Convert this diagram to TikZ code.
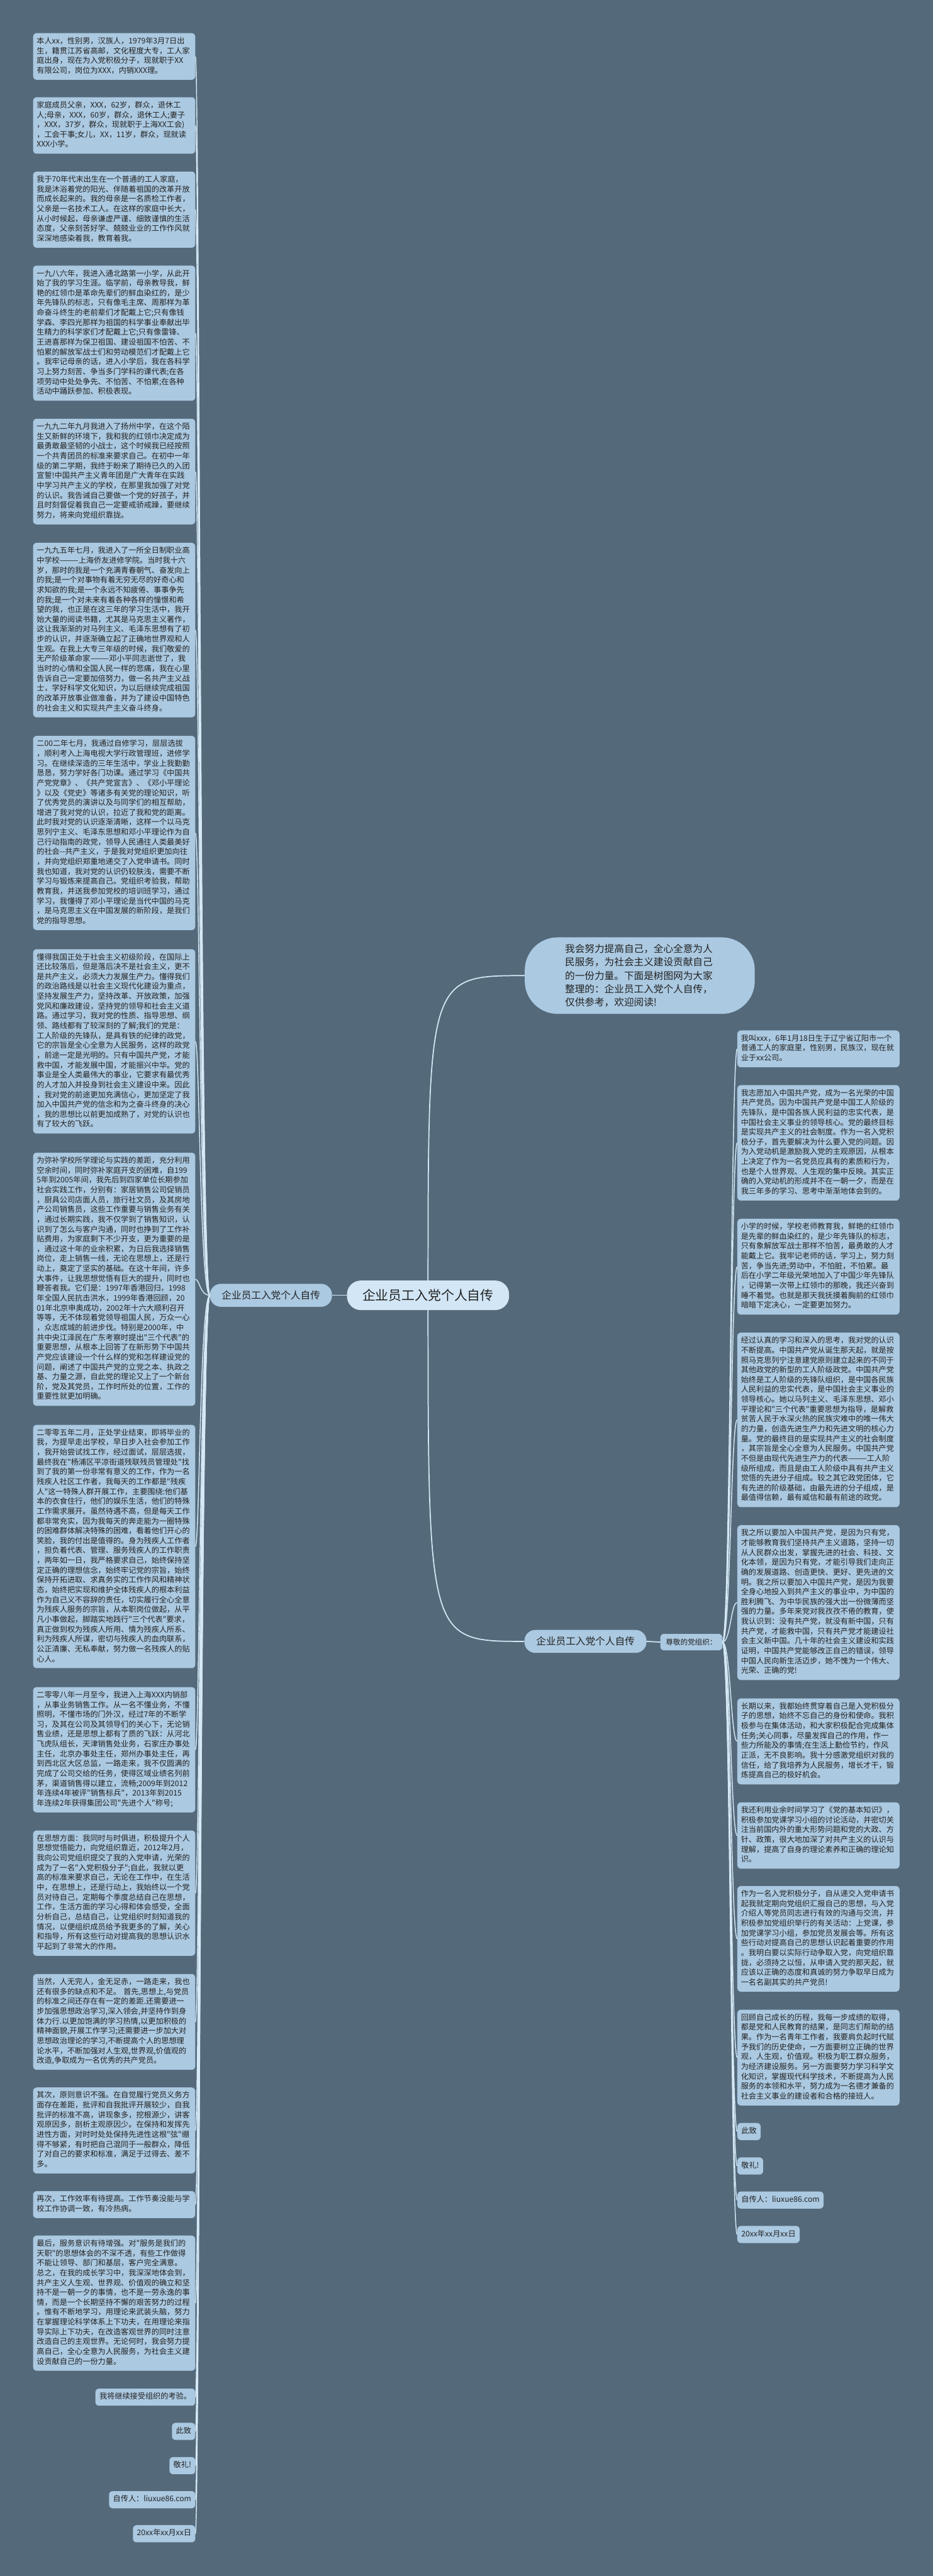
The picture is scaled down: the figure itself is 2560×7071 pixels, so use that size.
\documentclass[tikz,border=0pt]{standalone}
\usepackage{fontspec}
\newfontfamily\cjk{Noto Sans CJK SC}
\usetikzlibrary{calc}
\pgfdeclarelayer{bgfill}
\pgfdeclarelayer{edges}
\pgfsetlayers{bgfill,edges,main}
\definecolor{bgc}{HTML}{546A7B}
\definecolor{boxc}{HTML}{ABC9E1}
\definecolor{hubc}{HTML}{D2E6F5}
\definecolor{linec}{HTML}{D4E8F5}
\definecolor{txtc}{HTML}{222222}
\begin{document}
\begin{tikzpicture}[x=1pt,y=1pt,
  txtbox/.style={fill=boxc,text=txtc,rounded corners=10pt,font=\cjk\fontsize{21}{27}\selectfont,
    inner xsep=10pt,inner ysep=10pt,align=left,text width=425pt,
    execute at begin node=\strut,execute at end node=\strut},
  tagbox/.style={fill=boxc,text=txtc,rounded corners=10pt,font=\cjk\fontsize{21}{27}\selectfont,
    inner xsep=11pt,inner ysep=10pt,execute at begin node=\strut},
  intronode/.style={fill=boxc,text=txtc,rounded corners=90pt,minimum width=631pt,minimum height=210pt,
    text width=410pt,align=left,inner sep=0pt,font=\cjk\fontsize{27}{36.6}\selectfont},
  hubnode/.style={fill=hubc,text=txtc,rounded corners=38pt,minimum width=445pt,minimum height=81pt,
    inner sep=0pt,font=\cjk\fontsize{36}{40}\selectfont},
  branchnode/.style={fill=boxc,text=txtc,rounded corners=30pt,minimum width=335pt,minimum height=63pt,
    inner sep=0pt,font=\cjk\fontsize{27}{30}\selectfont},
  subnode/.style={fill=boxc,text=txtc,rounded corners=10pt,minimum width=170pt,minimum height=45pt,
    inner sep=0pt,font=\cjk\fontsize{20}{24}\selectfont},
  conn/.style={draw=linec,line width=2.5pt},
  mainconn/.style={draw=linec,line width=3pt}
]
\useasboundingbox (0,0) rectangle (2560,-7071);
\begin{pgfonlayer}{bgfill}
\fill[bgc] (0,0) rectangle (2560,-7071);
\end{pgfonlayer}

% ---------- central structure ----------
\node[hubnode] (hub) at (1174.5,-3555.5) {企业员工入党个人自传};
\node[branchnode] (lhub) at (743.5,-3555.5) {企业员工入党个人自传};
\node[branchnode] (bnode) at (1606.5,-4505.5) {企业员工入党个人自传};
\node[subnode] (sub) at (1897,-4507.5) {尊敬的党组织：};
\node[intronode] (intro) at (1755.5,-2678) {我会努力提高自己，全心全意为人\\民服务，为社会主义建设贡献自己\\的一份力量。下面是树图网为大家\\整理的：企业员工入党个人自传，\\仅供参考，欢迎阅读!};

\coordinate (ltrunk) at (548,-3555.5);
\coordinate (rtrunk) at (2005,-4507.5);

% ---------- left column ----------
\node[txtbox,anchor=east] (L1) at (536,-155) {本人xx，性别男，汉族人，1979年3月7日出\\生，籍贯江苏省高邮，文化程度大专，工人家\\庭出身，现在为入党积极分子，现就职于XX\\有限公司，岗位为XXX，内销XXX理。};
\node[txtbox,anchor=east] (L2) at (536,-344.5) {家庭成员父亲，XXX，62岁，群众，退休工\\人;母亲，XXX，60岁，群众，退休工人;妻子\\，XXX，37岁，群众，现就职于上海XX工会)\\，工会干事;女儿，XX，11岁，群众，现就读\\XXX小学。};
\node[txtbox,anchor=east] (L3) at (536,-575.5) {我于70年代末出生在一个普通的工人家庭，\\我是沐浴着党的阳光、伴随着祖国的改革开放\\而成长起来的。我的母亲是一名质检工作者，\\父亲是一名技术工人。在这样的家庭中长大，\\从小时候起，母亲谦虚严谨、细致谨慎的生活\\态度，父亲刻苦好学、兢兢业业的工作作风就\\深深地感染着我，教育着我。};
\node[txtbox,anchor=east] (L4) at (536,-914.5) {一九八六年，我进入通北路第一小学，从此开\\始了我的学习生涯。临学前，母亲教导我，鲜\\艳的红领巾是革命先辈们的鲜血染红的，是少\\年先锋队的标志，只有像毛主席、周那样为革\\命奋斗终生的老前辈们才配戴上它;只有像钱\\学森、李四光那样为祖国的科学事业奉献出毕\\生精力的科学家们才配戴上它;只有像雷锋、\\王进喜那样为保卫祖国、建设祖国不怕苦、不\\怕累的解放军战士们和劳动模范们才配戴上它\\。我牢记母亲的话，进入小学后，我在各科学\\习上努力刻苦、争当多门学科的课代表;在各\\项劳动中处处争先、不怕苦、不怕累;在各种\\活动中踊跃参加、积极表现。};
\node[txtbox,anchor=east] (L5) at (536,-1294.5) {一九九二年九月我进入了扬州中学，在这个陌\\生又新鲜的环境下，我和我的红领巾决定成为\\最勇敢最坚韧的小战士，这个时候我已经按照\\一个共青团员的标准来要求自己。在初中一年\\级的第二学期，我终于盼来了期待已久的入团\\宣誓!中国共产主义青年团是广大青年在实践\\中学习共产主义的学校，在那里我加强了对党\\的认识。我告诫自己要做一个党的好孩子，并\\且时刻督促着我自己一定要戒骄戒躁，要继续\\努力，将来向党组织靠拢。};
\node[txtbox,anchor=east] (L6) at (536,-1729.5) {一九九五年七月，我进入了一所全日制职业高\\中学校———上海侨友进修学院。当时我十六\\岁，那时的我是一个充满青春朝气、奋发向上\\的我;是一个对事物有着无穷无尽的好奇心和\\求知欲的我;是一个永远不知疲倦、事事争先\\的我;是一个对未来有着各种各样的憧憬和希\\望的我，也正是在这三年的学习生活中，我开\\始大量的阅读书籍，尤其是马克思主义著作，\\这让我渐渐的对马列主义、毛泽东思想有了初\\步的认识，并逐渐确立起了正确地世界观和人\\生观。在我上大专三年级的时候，我们敬爱的\\无产阶级革命家———邓小平同志逝世了，我\\当时的心情和全国人民一样的悲痛，我在心里\\告诉自己一定要加倍努力，做一名共产主义战\\士，学好科学文化知识，为以后继续完成祖国\\的改革开放事业做准备，并为了建设中国特色\\的社会主义和实现共产主义奋斗终身。};
\node[txtbox,anchor=east] (L7) at (536,-2286.5) {二00二年七月，我通过自修学习，层层选拔\\，顺利考入上海电视大学行政管理班，进修学\\习。在继续深造的三年生活中，学业上我勤勤\\恳恳，努力学好各门功课。通过学习《中国共\\产党党章》、《共产党宣言》、《邓小平理论\\》以及《党史》等诸多有关党的理论知识，听\\了优秀党员的演讲以及与同学们的相互帮助，\\增进了我对党的认识，拉近了我和党的距离。\\此时我对党的认识逐渐清晰，这样一个以马克\\思列宁主义、毛泽东思想和邓小平理论作为自\\己行动指南的政党，领导人民通往人类最美好\\的社会-{}-共产主义，于是我对党组织更加向往\\，并向党组织郑重地递交了入党申请书。同时\\我也知道，我对党的认识仍较肤浅，需要不断\\学习与锻炼来提高自己。党组织考验我，帮助\\教育我，并送我参加党校的培训班学习，通过\\学习，我懂得了邓小平理论是当代中国的马克\\，是马克思主义在中国发展的新阶段，是我们\\党的指导思想。};
\node[txtbox,anchor=east] (L8) at (536,-2858.5) {懂得我国正处于社会主义初级阶段，在国际上\\还比较落后，但是落后决不是社会主义，更不\\是共产主义，必须大力发展生产力。懂得我们\\的政治路线是以社会主义现代化建设为重点，\\坚持发展生产力，坚持改革、开放政策，加强\\党风和廉政建设，坚持党的领导和社会主义道\\路。通过学习，我对党的性质、指导思想、纲\\领、路线都有了较深刻的了解;我们的党是：\\工人阶级的先锋队，是具有铁的纪律的政党，\\它的宗旨是全心全意为人民服务，这样的政党\\，前途一定是光明的。只有中国共产党，才能\\救中国，才能发展中国，才能振兴中华。党的\\事业是全人类最伟大的事业，它要求有最优秀\\的人才加入并投身到社会主义建设中来。因此\\，我对党的前途更加充满信心，更加坚定了我\\加入中国共产党的信念和为之奋斗终身的决心\\，我的思想比以前更加成熟了，对党的认识也\\有了较大的飞跃。};
\node[txtbox,anchor=east] (L9) at (536,-3511.5) {为弥补学校所学理论与实践的差距，充分利用\\空余时间，同时弥补家庭开支的困难，自199\\5年到2005年间，我先后到四家单位长期参加\\社会实践工作，分别有：家居销售公司促销员\\，厨具公司店面人员，旅行社文员，及其房地\\产公司销售员，这些工作重要与销售业务有关\\，通过长期实践，我不仅学到了销售知识，认\\识到了怎么与客户沟通，同时也挣到了工作补\\贴费用，为家庭剩下不少开支，更为重要的是\\，通过这十年的业余积累，为日后我选择销售\\岗位，走上销售一线，无论在思想上，还是行\\动上，奠定了坚实的基础。在这十年间，许多\\大事件，让我思想觉悟有巨大的提升，同时也\\鞭答者我。它们是：1997年香港回归，1998\\年全国人民抗击洪水，1999年香港回顾，20\\01年北京申奥成功，2002年十六大顺利召开\\等等，无不体现着党领导祖国人民，万众一心\\，众志成城的前进步伐。特别是2000年，中\\共中央江泽民在广东考察时提出"三个代表"的\\重要思想，从根本上回答了在新形势下中国共\\产党应该建设一个什么样的党和怎样建设党的\\问题，阐述了中国共产党的立党之本、执政之\\基、力量之源，自此党的理论又上了一个新台\\阶，党及其党员，工作时所处的位置，工作的\\重要性就更加明确。};
\node[txtbox,anchor=east] (L10) at (536,-4245) {二零零五年二月，正处学业结束，即将毕业的\\我，为提早走出学校，早日步入社会参加工作\\，我开始尝试找工作，经过面试，层层选拔，\\最终我在"杨浦区平凉街道残联残员管理处"找\\到了我的第一份非常有意义的工作，作为一名\\残疾人社区工作者，我每天的工作都是"残疾\\人"这一特殊人群开展工作，主要围绕:他们基\\本的衣食住行，他们的娱乐生活，他们的特殊\\工作需求展开。虽然待遇不高，但是每天工作\\都非常充实，因为我每天的奔走能为一圈特殊\\的困难群体解决特殊的困难，看着他们开心的\\笑脸，我的付出是值得的。身为残疾人工作者\\，担负着代表、管理、服务残疾人的工作职责\\，两年如一日，我严格要求自己，始终保持坚\\定正确的理想信念，始终牢记党的宗旨，始终\\保持开拓进取、求真务实的工作作风和精神状\\态，始终把实现和维护全体残疾人的根本利益\\作为自己义不容辞的责任，切实履行全心全意\\为残疾人服务的宗旨，从本职岗位做起，从平\\凡小事做起，脚踏实地践行"三个代表"要求，\\真正做到权为残疾人所用、情为残疾人所系、\\利为残疾人所谋，密切与残疾人的血肉联系，\\公正清廉、无私奉献，努力做一名残疾人的贴\\心人。};
\node[txtbox,anchor=east] (L11) at (536,-4803) {二零零八年一月至今，我进入上海XXX内销部\\，从事业务销售工作。从一名不懂业务，不懂\\照明，不懂市场的门外汉，经过7年的不断学\\习，及其在公司及其领导们的关心下，无论销\\售业绩，还是思想上都有了质的飞跃：从河北\\飞虎队组长，天津销售处业务，石家庄办事处\\主任，北京办事处主任，郑州办事处主任，再\\到西北区大区总监，一路走来，我不仅圆满的\\完成了公司交给的任务，使得区域业绩名列前\\茅，渠道销售得以建立，流畅;2009年到2012\\年连续4年被评"销售标兵"，2013年到2015\\年连续2年获得集团公司"先进个人"称号;};
\node[txtbox,anchor=east] (L12) at (536,-5196.5) {在思想方面：我同时与时俱进，积极提升个人\\思想觉悟能力，向党组织靠近，2012年2月，\\我向公司党组织提交了我的入党申请，光荣的\\成为了一名"入党积极分子";自此，我就以更\\高的标准来要求自己，无论在工作中，在生活\\中，在思想上，还是行动上，我始终以一个党\\员对待自己，定期每个季度总结自己在思想，\\工作，生活方面的学习心得和体会感受，全面\\分析自己，总结自己，让党组织时刻知道我的\\情况，以便组织成员给予我更多的了解，关心\\和指导，所有这些行动对提高我的思想认识水\\平起到了非常大的作用。};
\node[txtbox,anchor=east] (L13) at (536,-5550) {当然，人无完人，金无足赤，一路走来，我也\\还有很多的缺点和不足。\ 首先,思想上,与党员\\的标准之间还存在有一定的差距.还需要进一\\步加强思想政治学习,深入领会,并坚持作到身\\体力行.以更加饱满的学习热情,以更加积极的\\精神面貌,开展工作学习;还需要进一步加大对\\思想政治理论的学习,不断提高个人的思想理\\论水平，不断加强对人生观,世界观,价值观的\\改造,争取成为一名优秀的共产党员。};
\node[txtbox,anchor=east] (L14) at (536,-5848) {其次，原则意识不强。在自觉履行党员义务方\\面存在差距，批评和自我批评开展较少，自我\\批评的标准不高，讲现象多，挖根源少，讲客\\观原因多，剖析主观原因少。在保持和发挥先\\进性方面，对时时处处保持先进性这根"弦"绷\\得不够紧，有时把自己混同于一般群众，降低\\了对自己的要求和标准，满足于过得去、差不\\多。};
\node[txtbox,anchor=east] (L15) at (536,-6051.5) {再次，工作效率有待提高。工作节奏没能与学\\校工作协调一致，有冷热病。};
\node[txtbox,anchor=east] (L16) at (536,-6322) {最后，服务意识有待增强。对"服务是我们的\\天职"的思想体会的不深不透，有些工作做得\\不能让领导、部门和基层，客户完全满意。\\总之，在我的成长学习中，我深深地体会到，\\共产主义人生观、世界观、价值观的确立和坚\\持不是一朝一夕的事情，也不是一劳永逸的事\\情，而是一个长期坚持不懈的艰苦努力的过程\\。惟有不断地学习，用理论来武装头脑，努力\\在掌握理论科学体系上下功夫，在用理论来指\\导实际上下功夫，在改造客观世界的同时注意\\改造自己的主观世界。无论何时，我会努力提\\高自己，全心全意为人民服务，为社会主义建\\设贡献自己的一份力量。};
\node[tagbox,anchor=east] (L17) at (536,-6580) {我将继续接受组织的考验。};
\node[tagbox,anchor=east] (L18) at (536,-6674) {此致};
\node[tagbox,anchor=east] (L19) at (536,-6768) {敬礼!};
\node[tagbox,anchor=east] (L20) at (536,-6861.5) {自传人：liuxue86.com};
\node[tagbox,anchor=east] (L21) at (536,-6955) {20xx年xx月xx日};

% ---------- right column ----------
\node[txtbox,anchor=west] (R1) at (2023,-2879) {我叫xxx，6年1月18日生于辽宁省辽阳市一个\\普通工人的家庭里，性别男，民族汉，现在就\\业于xx公司。};
\node[txtbox,anchor=west] (R2) at (2023,-3137) {我志愿加入中国共产党，成为一名光荣的中国\\共产党员。因为中国共产党是中国工人阶级的\\先锋队，是中国各族人民利益的忠实代表，是\\中国社会主义事业的领导核心。党的最终目标\\是实现共产主义的社会制度。作为一名入党积\\极分子，首先要解决为什么要入党的问题。因\\为入党动机是激励我入党的主观原因，从根本\\上决定了作为一名党员应具有的素质和行为，\\也是个人世界观、人生观的集中反映。其实正\\确的入党动机的形成并不在一朝一夕，而是在\\我三年多的学习、思考中渐渐地体会到的。};
\node[txtbox,anchor=west] (R3) at (2023,-3477) {小学的时候，学校老师教育我，鲜艳的红领巾\\是先辈的鲜血染红的，是少年先锋队的标志，\\只有象解放军战士那样不怕苦，最勇敢的人才\\能戴上它。我牢记老师的话，学习上，努力刻\\苦，争当先进;劳动中，不怕脏，不怕累。最\\后在小学二年级光荣地加入了中国少年先锋队\\，记得第一次带上红领巾的那晚，我还兴奋到\\睡不着觉。也就是那天我抚摸着胸前的红领巾\\暗暗下定决心，一定要更加努力。};
\node[txtbox,anchor=west] (R4) at (2023,-3897.5) {经过认真的学习和深入的思考，我对党的认识\\不断提高。中国共产党从诞生那天起，就是按\\照马克思列宁注意建党原则建立起来的不同于\\其他政党的新型的工人阶级政党。中国共产党\\始终是工人阶级的先锋队组织，是中国各民族\\人民利益的忠实代表，是中国社会主义事业的\\领导核心。她以马列主义、毛泽东思想、邓小\\平理论和"三个代表"重要思想为指导，是解救\\贫苦人民于水深火热的民族灾难中的唯一伟大\\的力量，创造先进生产力和先进文明的核心力\\量。党的最终目的是实现共产主义的社会制度\\，其宗旨是全心全意为人民服务。中国共产党\\不但是由现代先进生产力的代表———工人阶\\级所组成，而且是由工人阶级中具有共产主义\\觉悟的先进分子组成。较之其它政党团体，它\\有先进的阶级基础，由最先进的分子组成，是\\最值得信赖，最有威信和最有前途的政党。};
\node[txtbox,anchor=west] (R5) at (2023,-4399) {我之所以要加入中国共产党，是因为只有党，\\才能够教育我们坚持共产主义道路，坚持一切\\从人民群众出发，掌握先进的社会、科技、文\\化本领，是因为只有党，才能引导我们走向正\\确的发展道路、创造更快、更好、更先进的文\\明。我之所以要加入中国共产党，是因为我要\\全身心地投入到共产主义的事业中，为中国的\\胜利腾飞、为中华民族的强大出一份微薄而坚\\强的力量。多年来党对我孜孜不倦的教育，使\\我认识到：没有共产党，就没有新中国，只有\\共产党，才能救中国，只有共产党才能建设社\\会主义新中国。几十年的社会主义建设和实践\\证明，中国共产党能够改正自己的错误，领导\\中国人民向新生活迈步，她不愧为一个伟大、\\光荣、正确的党!};
\node[txtbox,anchor=west] (R6) at (2023,-4780) {长期以来，我都始终贯穿着自己是入党积极分\\子的思想，始终不忘自己的身份和使命。我积\\极参与在集体活动，和大家积极配合完成集体\\任务;关心同事，尽量发挥自己的作用，作一\\些力所能及的事情;在生活上勤俭节约，作风\\正派，无不良影响。我十分感激党组织对我的\\信任，给了我培养为人民服务，增长才干，锻\\炼提高自己的极好机会。};
\node[txtbox,anchor=west] (R7) at (2023,-5038.5) {我还利用业余时间学习了《党的基本知识》，\\积极参加党课学习小组的讨论活动，并密切关\\注当前国内外的重大形势问题和党的大政、方\\针、政策，很大地加深了对共产主义的认识与\\理解，提高了自身的理论素养和正确的理论知\\识。};
\node[txtbox,anchor=west] (R8) at (2023,-5322) {作为一名入党积极分子，自从递交入党申请书\\起我就定期向党组织汇报自己的思想，与入党\\介绍人等党员同志进行有效的沟通与交流，并\\积极参加党组织举行的有关活动：上党课，参\\加党课学习小组，参加党员发展会等。所有这\\些行动对提高自己的思想认识起着重要的作用\\。我明白要以实际行动争取入党，向党组织靠\\拢，必须持之以恒，从申请入党的那天起，就\\应该以正确的态度和真诚的努力争取早日成为\\一名名副其实的共产党员!};
\node[txtbox,anchor=west] (R9) at (2023,-5648) {回顾自己成长的历程，我每一步成绩的取得，\\都是党和人民教育的结果，是同志们帮助的结\\果。作为一名青年工作者，我要肩负起时代赋\\予我们的历史使命，一方面要树立正确的世界\\观，人生观，价值观。积极为职工群众服务，\\为经济建设服务。另一方面要努力学习科学文\\化知识，掌握现代科学技术，不断提高为人民\\服务的本领和水平，努力成为一名德才兼备的\\社会主义事业的建设者和合格的接班人。};
\node[tagbox,anchor=west] (R10) at (2023,-5851) {此致};
\node[tagbox,anchor=west] (R11) at (2023,-5945.5) {敬礼!};
\node[tagbox,anchor=west] (R12) at (2023,-6039) {自传人：liuxue86.com};
\node[tagbox,anchor=west] (R13) at (2023,-6133.5) {20xx年xx月xx日};

% ---------- connectors ----------
\begin{pgfonlayer}{edges}
\draw[mainconn] (hub.center) .. controls (hub.center |- intro.west) .. (intro.west);
\draw[mainconn] (hub.center) .. controls (hub.center |- bnode.west) .. (bnode.west);
\draw[mainconn] (hub.west) -- (lhub.east);
\draw[mainconn] (bnode.east) -- (sub.west);
\foreach \n in {1,...,21}
  \draw[conn] (lhub.west) .. controls (ltrunk) and (ltrunk |- L\n.east) .. (L\n.east);
\foreach \n in {1,...,13}
  \draw[conn] (sub.east) .. controls (rtrunk) and (rtrunk |- R\n.west) .. (R\n.west);
\end{pgfonlayer}
\end{tikzpicture}
\end{document}
